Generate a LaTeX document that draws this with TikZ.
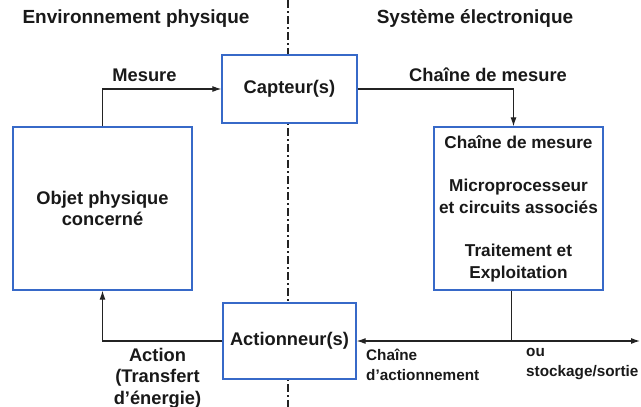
\documentclass[tikz,border=0pt]{standalone}
\usepackage{fontspec}
\setmainfont{Liberation Sans}
\usepackage{xcolor}
\usetikzlibrary{
  arrows.meta,
  positioning
}

\definecolor{boxblue}{RGB}{55,105,200}
\definecolor{linegray}{RGB}{35,35,35}

\begin{document}
\begin{tikzpicture}[x=1pt, y=-1pt,
  every node/.style = {font=\bfseries\fontsize{18.3}{21.5}\selectfont,
    inner sep=0pt, align=center, text=black!90},
  titre/.style = {font=\bfseries\fontsize{19}{22}\selectfont},
  bloc/.style = {draw=boxblue, line width=1.3pt, fill=white},
  lien/.style = {draw=linegray, line width=1.1pt},
  fleche/.style = {lien, -{Latex[length=9pt,width=6pt]}},
  petit/.style = {font=\bfseries\fontsize{15.3}{20}\selectfont, align=left}]
  \useasboundingbox (0,0) rectangle (641,407);
  \draw[lien, dash pattern=on 8pt off 3pt on 2pt off 3pt] (288,0) -- (288,407);
  \node[titre] (envphys) at (136,19) {Environnement physique};
  \node[titre] (systelec) at (475,19) {Système électronique};
  \node[bloc, minimum width=135pt, minimum height=68pt] (capteur) at (289.5,89) {Capteur(s)};
  \node[bloc, minimum width=179pt, minimum height=163pt] (objet) at (102.5,208.5)
    {Objet physique\\concerné};
  \node[bloc, minimum width=133pt, minimum height=76pt] (actionneur) at (289.5,341)
    {Actionneur(s)};
  \node[bloc, minimum width=169pt, minimum height=163pt,
    font=\bfseries\fontsize{17.2}{21.5}\selectfont] (chaine) at (518.5,208.5)
    {Chaîne de mesure\\[22pt]Microprocesseur\\et circuits associés\\[22pt]Traitement et\\Exploitation};
  \coordinate (sortie) at (640,341);
  \coordinate (bas) at ([xshift=-7pt]chaine.south);
  \draw[fleche] (objet.north) |- (capteur.west);
  \draw[fleche] (capteur.east) -| ([xshift=-5pt]chaine.north);
  \draw[lien] (bas) -- (bas |- actionneur.east);
  \draw[lien, {Latex[length=9pt,width=6pt]}-{Latex[length=9pt,width=6pt]}] (actionneur.east) -- (sortie);
  \draw[fleche] (actionneur.west) -| (objet.south);
  \node (mesure) at (144.5,75) {Mesure};
  \node (chainemes) at (488,75) {Chaîne de mesure};
  \node[petit, anchor=north west] (chaineact) at (366,348.5) {Chaîne\\d'actionnement};
  \node[petit, anchor=north west] (stockage) at (526,348.5) {ou\\stockage/sortie};
  \node[anchor=north] (action) at (157.5,348) {Action\\(Transfert\\d'énergie)};
\end{tikzpicture}
\end{document}
